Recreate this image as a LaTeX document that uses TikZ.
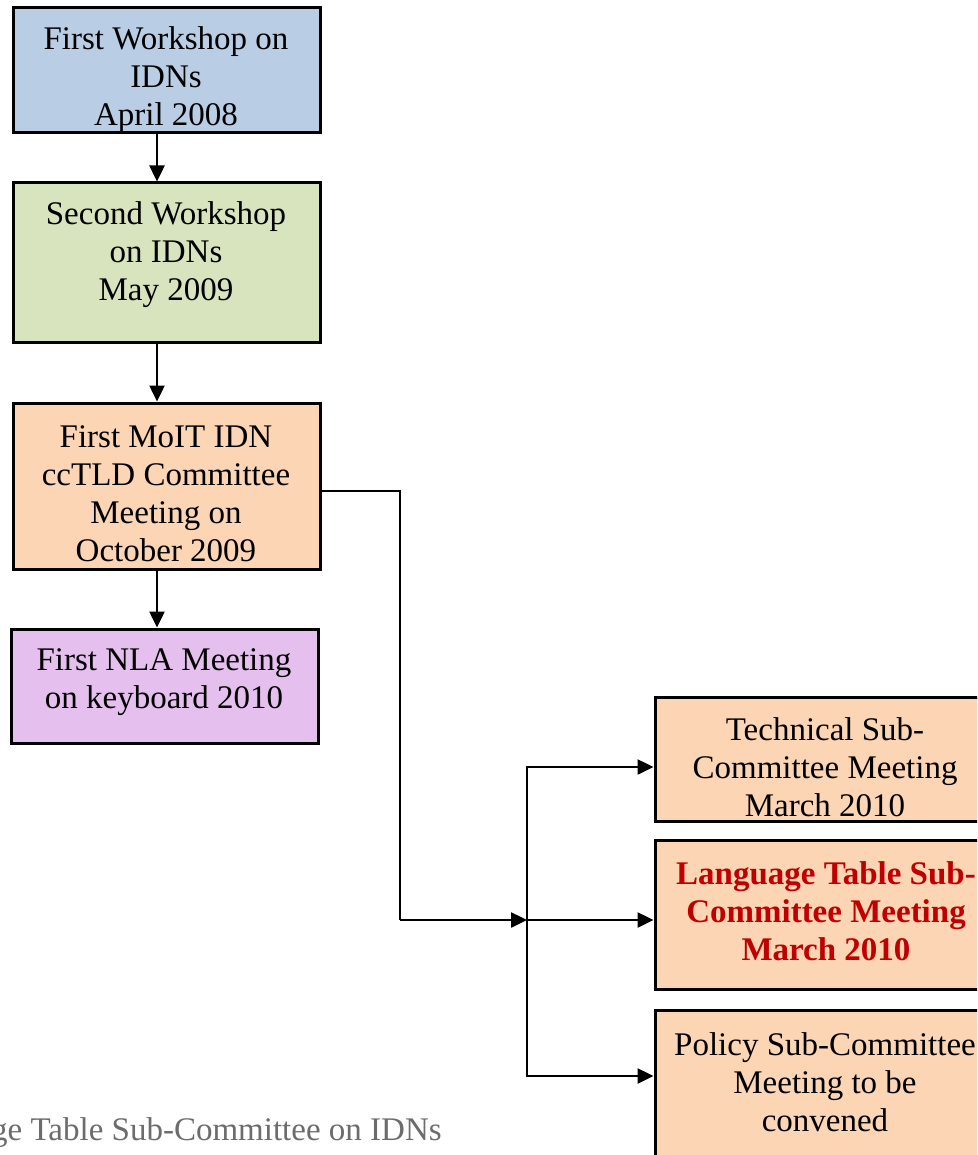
\documentclass[tikz,border=0pt]{standalone}
\usepackage{fontspec}
\setmainfont{Liberation Serif}
\usetikzlibrary{arrows.meta}
\definecolor{cblue}{HTML}{B9CDE5}
\definecolor{cgreen}{HTML}{D7E4BD}
\definecolor{cpeach}{HTML}{FBD5B4}
\definecolor{cviolet}{HTML}{E5C0EE}
\definecolor{cred}{HTML}{C00000}
\definecolor{cfoot}{HTML}{6E6B6B}
\begin{document}
\begin{tikzpicture}[x=1pt,y=1pt,
  box/.style={draw=black, line width=3pt, rectangle, inner sep=0pt},
  txt/.style={align=center, font=\fontsize{33}{38}\selectfont, inner sep=0pt},
  arr/.style={line width=2.5pt, -{Triangle[length=16pt,width=15pt]}},
  ln/.style={line width=2.5pt}]
\clip (0,0) rectangle (977,-1155);
\fill[white] (0,0) rectangle (977,-1155);
% boxes
\node[box, fill=cblue, minimum width=307pt, minimum height=125pt] (b1) at (166.5,-70.5) {};
\node[box, fill=cgreen, minimum width=307pt, minimum height=159pt] (b2) at (166.5,-262.5) {};
\node[box, fill=cpeach, minimum width=307pt, minimum height=166pt] (b3) at (166.5,-486) {};
\node[box, fill=cviolet, minimum width=307pt, minimum height=114pt] (b4) at (164.5,-686) {};
\node[box, fill=cpeach, minimum width=340pt, minimum height=124pt] (b5) at (825,-759) {};
\node[box, fill=cpeach, minimum width=340pt, minimum height=149pt] (b6) at (825,-914.5) {};
\node[box, fill=cpeach, minimum width=340pt, minimum height=165pt] (b7) at (825,-1092.5) {};
% texts
\node[txt] (t1) at (166,-80) {First Workshop on\\IDNs\\April 2008};
\node[txt] (t2) at (166,-255) {Second Workshop\\on IDNs\\May 2009};
\node[txt] (t3) at (166,-494) {First MoIT IDN\\ccTLD Committee\\Meeting on\\October 2009};
\node[txt] (t4) at (164,-682.5) {First NLA Meeting\\on keyboard 2010};
\node[txt] (t5) at (825,-767) {Technical Sub-\\Committee Meeting\\March 2010};
\node[txt, text=cred, font=\fontsize{33}{38}\selectfont\bfseries] (t6) at (826,-911) {Language Table Sub-\\Committee Meeting\\March 2010};
\node[txt] (t7) at (825,-1082) {Policy Sub-Committee\\Meeting to be\\convened};
% footer
\node[anchor=base west, inner sep=0pt, font=\fontsize{33}{38}\selectfont, text=cfoot] (foot) at (-9,-1140) {ge Table Sub-Committee on IDNs};
% connectors
\draw[arr] ([xshift=-9.5pt]b1.south) -- ([xshift=-9.5pt]b2.north);
\draw[arr] ([xshift=-9.5pt]b2.south) -- ([xshift=-9.5pt]b3.north);
\draw[arr] ([xshift=-9.5pt]b3.south) -- ([xshift=-7.5pt]b4.north);
\coordinate (k1) at (400,-491);
\coordinate (k2) at (400,-920);
\coordinate (j) at (527,-920);
\draw[ln] ([yshift=-5pt]b3.east) -- (k1) -- (k2);
\draw[arr] (k2) -- (j);
\draw[arr] (j) |- ([yshift=-8pt]b5.west);
\draw[arr] (j) -- ([yshift=-5.5pt]b6.west);
\draw[arr] (j) |- ([yshift=16.5pt]b7.west);
\end{tikzpicture}
\end{document}
